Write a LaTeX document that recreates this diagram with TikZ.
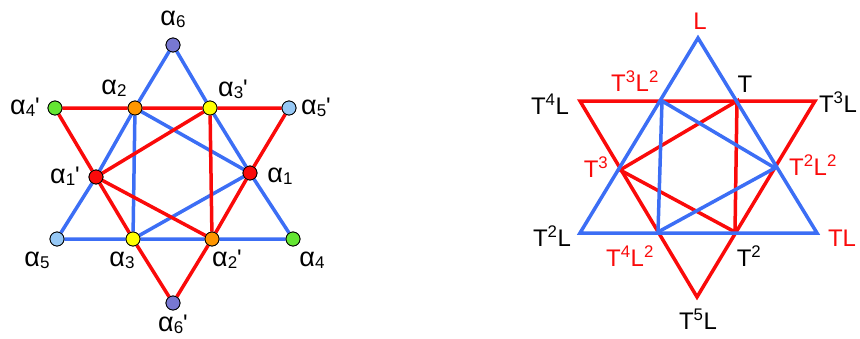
\documentclass[tikz,border=0pt]{standalone}
\usepackage{fontspec}
\setmainfont{Liberation Sans}
\definecolor{starblue}{RGB}{60,110,245}
\definecolor{starred}{RGB}{250,10,10}
\definecolor{vorange}{RGB}{255,150,0}
\definecolor{vyellow}{RGB}{255,255,0}
\definecolor{vgreen}{RGB}{100,230,50}
\definecolor{vsky}{RGB}{150,200,245}
\definecolor{vpurple}{RGB}{120,120,210}
\newcommand{\alp}[2]{{\fontsize{27}{27}\selectfont α}\raisebox{-0.15ex}{\fontsize{17}{17}\selectfont #1}#2}
\newcommand{\prm}{\textquotesingle}
\tikzset{
  vtx/.style={circle,draw=black,line width=0.8pt,minimum size=14pt,inner sep=0pt},
  bl/.style={draw=starblue,line width=3.5pt},
  rd/.style={draw=starred,line width=3.5pt},
  lbl/.style={font=\fontsize{24}{26}\selectfont,inner sep=0pt},
}
\begin{document}
\begin{tikzpicture}[x=1pt,y=-1pt]
\useasboundingbox (0,0) rectangle (860,338);
\node[vtx,fill=vpurple] (a6) at (173,45) {};
\node[vtx,fill=vorange] (a2) at (135,108) {};
\node[vtx,fill=vyellow] (a3p) at (210,108) {};
\node[vtx,fill=vgreen] (a4p) at (55,108) {};
\node[vtx,fill=vsky] (a5p) at (289,108) {};
\node[vtx,fill=starred] (a1p) at (96,177) {};
\node[vtx,fill=starred] (a1) at (250,173) {};
\node[vtx,fill=vsky] (a5) at (57,239) {};
\node[vtx,fill=vyellow] (a3) at (133,239) {};
\node[vtx,fill=vorange] (a2p) at (212,239) {};
\node[vtx,fill=vgreen] (a4) at (293,239) {};
\node[vtx,fill=vpurple] (a6p) at (173,303) {};
\draw[bl] (a6) -- (a2) -- (a1p) -- (a5) -- (a3) -- (a2p) -- (a4) -- (a1) -- (a3p) -- (a6);
\draw[bl] (a2) -- (a3) -- (a1) -- (a2);
\draw[rd] (a4p) -- (a2) -- (a3p) -- (a5p) -- (a1) -- (a2p) -- (a6p) -- (a3) -- (a1p) -- (a4p);
\draw[rd] (a3p) -- (a1p) -- (a2p) -- (a3p);
\foreach \v/\c in {a6/vpurple,a2/vorange,a3p/vyellow,a4p/vgreen,a5p/vsky,a1p/starred,a1/starred,a5/vsky,a3/vyellow,a2p/vorange,a4/vgreen,a6p/vpurple}
  \node[vtx,fill=\c] at (\v) {};
\node[lbl] (la6) at (173,19) {\alp{6}{}};
\node[lbl] (la2) at (114,88) {\alp{2}{}};
\node[lbl] (la3p) at (233,89) {\alp{3}{\prm}};
\node[lbl] (la4p) at (25,107) {\alp{4}{\prm}};
\node[lbl] (la5p) at (316,107) {\alp{5}{\prm}};
\node[lbl] (la1p) at (65,176) {\alp{1}{\prm}};
\node[lbl] (la1) at (280,176) {\alp{1}{}};
\node[lbl] (la5) at (37,260) {\alp{5}{}};
\node[lbl] (la3) at (122,260) {\alp{3}{}};
\node[lbl] (la2p) at (227,259) {\alp{2}{\prm}};
\node[lbl] (la4) at (312,260) {\alp{4}{}};
\node[lbl] (la6p) at (173,324) {\alp{6}{\prm}};
\coordinate (L) at (698,38);
\coordinate (T2Lb) at (580,233);
\coordinate (TLb) at (817,233);
\coordinate (T4Lr) at (580,101);
\coordinate (T3Lr) at (815,101);
\coordinate (T5Lr) at (697,297);
\coordinate (T3L2) at (662,101);
\coordinate (T1) at (737,101);
\coordinate (T3) at (620,170);
\coordinate (T2L2) at (775,168);
\coordinate (T4L2) at (658,232);
\coordinate (T2) at (735,232);
\draw[rd] (T4Lr) -- (T3Lr) -- (T5Lr) -- cycle;
\draw[rd] (T1) -- (T3) -- (T2) -- cycle;
\draw[bl] (L) -- (TLb) -- (T2Lb) -- cycle;
\draw[bl] (T3L2) -- (T4L2) -- (T2L2) -- cycle;
\node[lbl,text=starred] (lL) at (700,21) {L};
\node[lbl,text=starred] (lT3L2) at (635,81) {T\textsuperscript{3}L\textsuperscript{2}};
\node[lbl] (lT) at (745,84) {T};
\node[lbl] (lT4L) at (550,104) {T\textsuperscript{4}L};
\node[lbl] (lT3L) at (838,102) {T\textsuperscript{3}L};
\node[lbl,text=starred] (lT3) at (596,167) {T\textsuperscript{3}};
\node[lbl,text=starred] (lT2L2) at (813,165) {T\textsuperscript{2}L\textsuperscript{2}};
\node[lbl] (lT2L) at (552,236) {T\textsuperscript{2}L};
\node[lbl,text=starred] (lTL) at (842,238) {TL};
\node[lbl,text=starred] (lT4L2) at (630,256) {T\textsuperscript{4}L\textsuperscript{2}};
\node[lbl] (lT2) at (749,256) {T\textsuperscript{2}};
\node[lbl] (lT5L) at (698,319) {T\textsuperscript{5}L};
\end{tikzpicture}
\end{document}
